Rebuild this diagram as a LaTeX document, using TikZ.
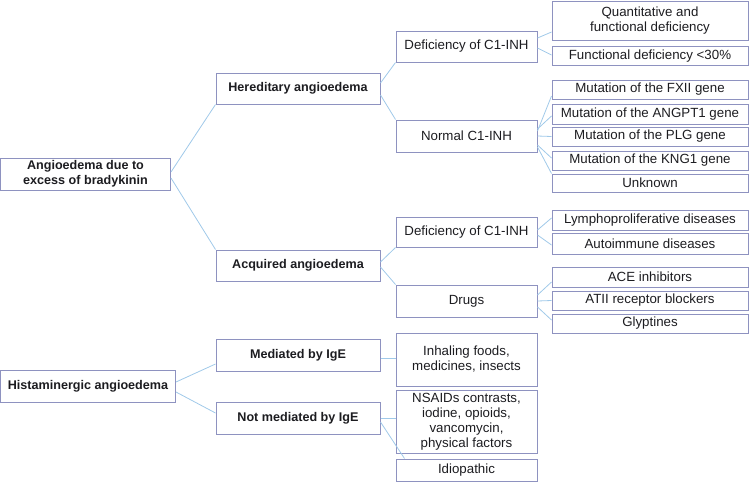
\documentclass[tikz,border=0pt]{standalone}
\usepackage{fontspec}
\setmainfont{Liberation Sans}
\usepackage{tikz}
\usetikzlibrary{positioning, calc}

\definecolor{boxline}{RGB}{142,146,192}
\definecolor{linkblue}{RGB}{160,201,233}
\definecolor{txt}{RGB}{28,28,32}

\begin{document}
\begin{tikzpicture}[x=1pt, y=-1pt,
    every node/.style={rectangle, draw=boxline, line width=1pt, inner sep=0pt, align=center, text=txt, font=\fontsize{13.3}{15}\selectfont},
    lvlzero/.style={font=\fontsize{12.6}{15}\selectfont\bfseries},
    lvlone/.style={minimum width=164pt, minimum height=31pt, font=\fontsize{12.6}{15}\selectfont\bfseries},
    lvltwo/.style={minimum width=141pt},
    lvlthree/.style={minimum width=196pt},
    link/.style={draw=linkblue, line width=0.8pt}]
    \useasboundingbox (0,0) rectangle (750,483);

    \node[lvlzero, minimum width=170pt, minimum height=32pt] (bradykinin) at (85.5,174) {Angioedema due to\\excess of bradykinin};
    \node[lvlzero, minimum width=175pt, minimum height=32pt] (histamin) at (88,386) {Histaminergic angioedema};

    \node[lvlone] (hered) at (298,88.5) {Hereditary angioedema};
    \node[lvlone] (acquir) at (298,265.5) {Acquired angioedema};
    \node[lvlone, minimum height=32pt] (mediated) at (298,355) {Mediated by IgE};
    \node[lvlone, minimum height=32pt] (notmediated) at (298,418) {Not mediated by IgE};

    \node[lvltwo, minimum height=31pt] (defhered) at (466.5,46.5) {Deficiency of C1-INH};
    \node[lvltwo, minimum height=32pt] (normal) at (466.5,136) {Normal C1-INH};
    \node[lvltwo, minimum height=30pt] (defacq) at (466.5,232) {Deficiency of C1-INH};
    \node[lvltwo, minimum height=32pt] (drugs) at (466.5,301) {Drugs};
    \node[lvltwo, minimum height=53pt] (inhaling) at (466.5,359.5) {Inhaling foods,\\medicines, insects};
    \node[lvltwo, minimum height=63pt] (nsaids) at (466.5,421.5) {NSAIDs contrasts,\\iodine, opioids,\\vancomycin,\\physical factors};
    \node[lvltwo, minimum height=22pt] (idiopathic) at (466.5,470) {Idiopathic};

    \node[lvlthree, minimum height=39pt] (quant) at (650,20.5) {Quantitative and\\functional deficiency};
    \node[lvlthree, minimum height=19pt] (funct) at (650,56) {Functional deficiency <30\%};
    \node[lvlthree, minimum height=19pt] (fxii) at (650,89.5) {Mutation of the FXII gene};
    \node[lvlthree, minimum height=20pt] (angpt) at (650,114) {Mutation of the ANGPT1 gene};
    \node[lvlthree, minimum height=19pt] (plg) at (650,136.5) {Mutation of the PLG gene};
    \node[lvlthree, minimum height=19pt] (kng) at (650,160.5) {Mutation of the KNG1 gene};
    \node[lvlthree, minimum height=18pt] (unknown) at (650,183) {Unknown};
    \node[lvlthree, minimum height=20pt] (lympho) at (650,220) {Lymphoproliferative diseases};
    \node[lvlthree, minimum height=21pt] (autoimm) at (650,243.5) {Autoimmune diseases};
    \node[lvlthree, minimum height=20pt] (ace) at (650,277) {ACE inhibitors};
    \node[lvlthree, minimum height=19pt] (atii) at (650,300.5) {ATII receptor blockers};
    \node[lvlthree, minimum height=19pt] (glyp) at (650,323.5) {Glyptines};

    \path[link]
    ([yshift=2pt]bradykinin.east) edge (hered.south west)
    ([yshift=-4pt]bradykinin.east) edge (acquir.north west)
    ([yshift=4pt]histamin.east) edge ([yshift=-9pt]mediated.west)
    ([yshift=-6pt]histamin.east) edge ([yshift=5pt]notmediated.west)
    ([yshift=5.5pt]hered.east) edge (defhered.south west)
    ([yshift=-6.5pt]hered.east) edge (normal.north west)
    ([yshift=3.5pt]acquir.east) edge (defacq.south west)
    ([yshift=-1.5pt]acquir.east) edge (drugs.north west)
    ([yshift=-3pt]mediated.east) edge ([yshift=1.5pt]inhaling.west)
    (notmediated.east) edge ([yshift=3.5pt]nsaids.west)
    ([yshift=-4pt]notmediated.east) edge ([xshift=9pt]idiopathic.north west)
    ([yshift=8.5pt]defhered.east) edge ([yshift=-11.5pt]quant.west)
    ([yshift=-1.5pt]defhered.east) edge ([yshift=1pt]funct.west)
    ([yshift=5pt]normal.east) edge ([yshift=-6.5pt]fxii.west)
    ([yshift=7pt]normal.east) edge ([yshift=-2pt]angpt.west)
    (normal.east) edge (plg.west)
    ([yshift=-9pt]normal.east) edge ([yshift=2.5pt]kng.west)
    ([yshift=-11pt]normal.east) edge (unknown.north west)
    ([yshift=2pt]defacq.east) edge ([yshift=2pt]lympho.west)
    ([yshift=-3pt]defacq.east) edge ([yshift=-1.5pt]autoimm.west)
    ([yshift=6pt]drugs.east) edge ([yshift=-5pt]ace.west)
    (drugs.east) edge (atii.west)
    ([yshift=-6pt]drugs.east) edge ([yshift=3.5pt]glyp.west);
\end{tikzpicture}
\end{document}
